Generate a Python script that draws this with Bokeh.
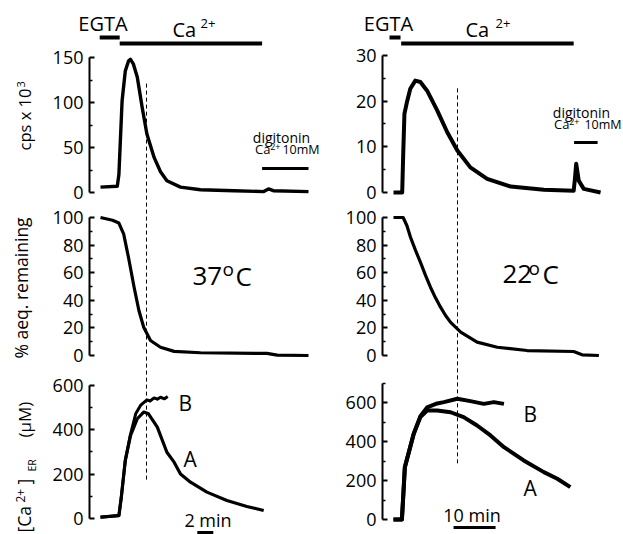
import numpy as np
from bokeh.plotting import figure
from bokeh.models import Range1d, FixedTicker, Label, LinearAxis
from bokeh.embed import file_html
from bokeh.resources import INLINE

FONT = "Open Sans"

# ---------------- data (time in min from start of trace) ----------------
# 37 oC
t37_cps = [0, 2.1, 2.3, 2.7, 3.1, 3.5, 3.75, 4.1, 4.6, 5.2, 5.8, 6.7, 7.5, 8.3, 10, 12.5, 16.7, 20.4, 21.0, 21.6, 26]
cps37 = [6, 7, 20, 102, 135, 146, 148, 143, 128, 95, 65, 39, 23, 13, 6, 3, 2, 1, 4, 2, 1]
t37_aeq = [0, 1.5, 2.3, 2.9, 3.5, 4.2, 4.8, 5.4, 6.25, 7.5, 9.2, 12.5, 20.8, 22.1, 26]
aeq37 = [100, 98, 96, 88, 71, 49.5, 32.6, 20.5, 10.9, 6, 3, 2, 1.5, 0.3, 0]
t37_A = [0, 2.3, 2.6, 3.1, 3.75, 4.6, 5.4, 6.0, 7.1, 8.3, 9.2, 10, 11.25, 13.3, 15.8, 18.3, 20.4]
ca37_A = [6, 13, 96, 262, 374, 450, 480, 472, 412, 299, 254, 201, 164, 119, 81, 54, 36]
t37_B = [0, 2.3, 2.6, 3.1, 3.75, 4.4, 5.0, 5.8, 6.2, 6.7, 7.1, 7.5, 8.0, 8.4]
ca37_B = [6, 13, 96, 262, 380, 472, 510, 535, 530, 544, 538, 547, 540, 550]

# 22 oC
t22_cps = [0, 2.07, 2.3, 2.6, 3.25, 4.0, 5.2, 6.4, 8.0, 10.4, 12.8, 15.2, 18.3, 22.3, 27.9, 35.8, 42.9, 43.2, 43.5, 44.1, 45.3, 49.3]
cps22 = [0, 0, 8, 17.2, 20, 22.7, 24.5, 24.2, 22.3, 18, 13.2, 9.2, 5.5, 3.0, 1.3, 0.6, 0.4, 3, 6.3, 2.6, 0.8, 0]
t22_aeq = [0, 2.3, 3.2, 4.05, 5.2, 6.4, 7.6, 8.8, 10.0, 11.2, 12.4, 13.6, 16, 19.9, 24.7, 31.8, 42.9, 44.9, 48.9]
aeq22 = [100, 100, 94, 85.7, 76.5, 67.6, 58.2, 49.5, 41.8, 35, 29, 24, 17, 9.7, 6, 3.6, 2.9, 0.5, 0]
t22_A = [0, 2.0, 2.4, 2.7, 3.65, 4.8, 6.4, 8.0, 10.4, 13.6, 16.7, 19.9, 23.1, 26.3, 31, 35.8, 39, 42.1]
ca22_A = [0, 0, 150, 268, 345, 439, 525, 559, 559, 550, 525, 482, 431, 371, 303, 243, 209, 166]
t22_B = [0, 2.0, 2.4, 2.7, 3.65, 4.8, 6.4, 8.0, 10.4, 12, 15.2, 18.3, 21.5, 23.9, 26.3]
ca22_B = [0, 0, 150, 268, 345, 439, 530, 575, 595, 602, 619, 607, 593, 602, 593]

# protocol bars (min)
egta37 = [-0.1, 2.4]
ca37 = [2.4, 20.2]
dig37 = [20.2, 26.0]
egta22 = [-0.95, 1.67]
ca22 = [1.83, 42.9]
dig22 = [43.0, 48.6]

# dashed time marker (min); it starts in the top panel and ends in the bottom panel
marker37 = 5.75
marker22 = 15.24
mark37_top, mark37_bot = 121, 171      # cps37 units, ca37 units
mark22_top, mark22_bot = 22.8, 287     # cps22 units, ca22 units

# scale bars (min)
scale37 = [12.1, 14.1]
scale22 = [14.3, 24.3]

# ticks
ticks_cps37, minor_cps37 = [0, 50, 100, 150], [25, 75, 125]
ticks_cps22, minor_cps22 = [0, 10, 20, 30], [5, 15, 25]
ticks_aeq, minor_aeq = [0, 20, 40, 60, 80, 100], [10, 30, 50, 70, 90]
ticks_ca, minor_ca37 = [0, 200, 400, 600], [100, 300, 500]
minor_ca22 = [100, 300, 500, 700]

# ---------------- layout calibration (page pixels) ----------------
W, H = 623, 534
XCAL = {"t37": (100, 8.0), "t22": (393, 4.2)}      # page x of t=0, px per minute
YCAL = {"cps37": (192, 0.9), "aeq37": (355, 1.38), "ca37": (518, 0.2217),
        "cps22": (192, 4.567), "aeq22": (355, 1.38), "ca22": (519, 0.195)}
AXIS_X = {"t37": 89, "t22": 382}
TEXT_SHIFT = 0.44    # em; compensates the renderer's baseline offset
YLAB_SHIFT = 0.2


def to_py(name, v):
    y0, s = YCAL[name]
    return y0 - v * s


p = figure(width=W, height=H, output_backend="svg", toolbar_location=None, tools="",
           x_range=Range1d(0, W), y_range=Range1d(0, H),
           x_axis_location=None, y_axis_location=None,
           min_border_left=0, min_border_right=0, min_border_top=0, min_border_bottom=0)
p.outline_line_color = None
p.grid.visible = False
p.extra_x_ranges = {k: Range1d((0 - x0) / s, (W - x0) / s) for k, (x0, s) in XCAL.items()}
p.extra_y_ranges = {k: Range1d((y0 - H) / s, y0 / s) for k, (y0, s) in YCAL.items()}


def add_axis(xname, yname, ticks, minor, bounds):
    ax = LinearAxis(y_range_name=yname, fixed_location=AXIS_X[xname],
                    ticker=FixedTicker(ticks=ticks, minor_ticks=minor), bounds=bounds)
    ax.axis_line_width = 2
    ax.axis_line_color = "black"
    ax.major_tick_in = 5
    ax.major_tick_out = 0
    ax.minor_tick_in = 3
    ax.minor_tick_out = 0
    ax.major_tick_line_width = 2
    ax.minor_tick_line_width = 1.5
    ax.major_tick_line_color = "black"
    ax.minor_tick_line_color = "black"
    ax.major_label_text_font = FONT
    ax.major_label_text_font_size = "18px"
    ax.major_label_text_color = "black"
    ax.major_label_standoff = 6
    p.add_layout(ax, "left")


def trace(xname, yname, t, v, lw):
    p.line(t, v, x_range_name=xname, y_range_name=yname, line_width=lw,
           color="black", line_join="round")


def hbar(xname, span, py, lw=4):
    p.segment(x0=[span[0]], y0=[H - py], x1=[span[1]], y1=[H - py], x_range_name=xname,
              line_width=lw, color="black", line_cap="butt")


def dash(xname, t, top_name, top_v, bot_name, bot_v):
    p.segment(x0=[t], y0=[H - to_py(top_name, top_v)], x1=[t], y1=[H - to_py(bot_name, bot_v)],
              x_range_name=xname, line_width=1, color="black", line_dash="4 3")


def lab(px, py, text, size, align="left"):
    p.add_layout(Label(x=px, y=H - (py - TEXT_SHIFT * size), text=text, text_font=FONT,
                       text_font_size=f"{size}px", text_color="black",
                       text_align=align, text_baseline="alphabetic"))


def ylab(px, py, text, size):
    p.add_layout(Label(x=px - YLAB_SHIFT * size, y=H - py, text=text, text_font=FONT,
                       text_font_size=f"{size}px", text_color="black",
                       text_align="left", text_baseline="middle", angle=np.pi / 2))


# ---------------- axes ----------------
add_axis("t37", "cps37", ticks_cps37, minor_cps37, (0, 150))
add_axis("t37", "aeq37", ticks_aeq, minor_aeq, (0, 100))
add_axis("t37", "ca37", ticks_ca, minor_ca37, (0, 600))
add_axis("t22", "cps22", ticks_cps22, minor_cps22, (0, 30))
add_axis("t22", "aeq22", ticks_aeq, minor_aeq, (0, 100))
add_axis("t22", "ca22", ticks_ca, minor_ca22, (0, 700))

# ---------------- traces ----------------
trace("t37", "cps37", t37_cps, cps37, 3.4)
trace("t37", "aeq37", t37_aeq, aeq37, 3.2)
trace("t37", "ca37", t37_B, ca37_B, 3)
trace("t37", "ca37", t37_A, ca37_A, 3.2)
trace("t22", "cps22", t22_cps, cps22, 4)
trace("t22", "aeq22", t22_aeq, aeq22, 3.2)
trace("t22", "ca22", t22_B, ca22_B, 4)
trace("t22", "ca22", t22_A, ca22_A, 4)

dash("t37", marker37, "cps37", mark37_top, "ca37", mark37_bot)
dash("t22", marker22, "cps22", mark22_top, "ca22", mark22_bot)

# ---------------- protocol bars & scale bars ----------------
hbar("t37", egta37, 37)
hbar("t37", ca37, 43)
hbar("t37", dig37, 168, lw=3)
hbar("t22", egta22, 37)
hbar("t22", ca22, 43)
hbar("t22", dig22, 142, lw=3)
hbar("t37", scale37, 532, lw=3)
hbar("t22", scale22, 527, lw=3)

# ---------------- texts (page pixel positions of baselines) ----------------
lab(102.5, 31.5, "EGTA", 20, align="center")
lab(172, 37.5, "Ca", 20)
lab(200, 28.5, "2+", 13)
lab(388, 31.5, "EGTA", 20, align="center")
lab(465, 37.5, "Ca", 20)
lab(495, 28.5, "2+", 13)

lab(281, 143, "digitonin", 14, align="center")
lab(270, 154, "Ca", 13, align="right")
lab(280, 150, "2+", 9, align="right")
lab(319, 154, "10mM", 12.5, align="right")
lab(581, 118, "digitonin", 14, align="center")
lab(569, 129, "Ca", 13, align="right")
lab(579, 125, "2+", 9, align="right")
lab(621, 129, "10mM", 12.5, align="right")

lab(192, 287, "37", 26)
lab(222, 277, "o", 19)
lab(235, 287, "C", 26)
lab(502, 285, "22", 26)
lab(528, 276, "o", 19)
lab(542, 285, "C", 26)

lab(178, 412, "B", 21)
lab(183, 468, "A", 21)
lab(207.5, 527, "2 min", 18, align="center")
lab(523, 423, "B", 21)
lab(523, 497, "A", 21)
lab(471.5, 522, "10 min", 18, align="center")

ylab(27, 150, "cps x 10", 16.5)
ylab(23, 87, "3", 11)
ylab(24, 358, "% aeq. remaining", 17.5)
ylab(27, 532, "[Ca", 17.5)
ylab(22, 502, "2+", 12)
ylab(27, 484, "]", 17.5)
ylab(34, 471, "ER", 10.5)
ylab(27, 437, "(µM)", 17)

open("out.html", "w").write(file_html(p, INLINE))
